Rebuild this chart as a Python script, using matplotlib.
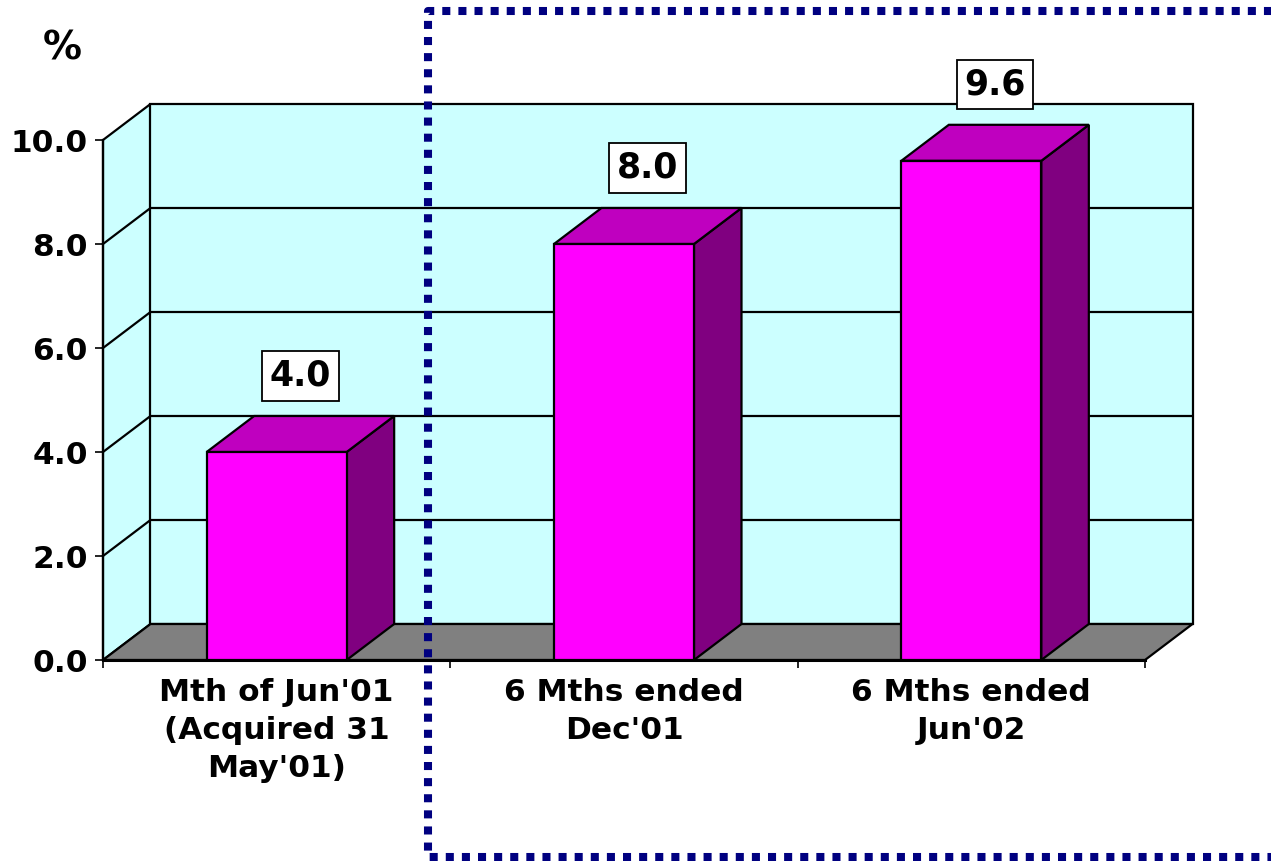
import matplotlib
matplotlib.use("Agg")
import matplotlib.pyplot as plt
from matplotlib.patches import Polygon
from matplotlib.lines import Line2D
from matplotlib.ticker import FormatStrFormatter, FixedLocator

plt.rcParams['font.family'] = ['DejaVu Sans']
plt.rcParams['font.weight'] = 'bold'

categories = ["Mth of Jun'01\n(Acquired 31\nMay'01)", "6 Mths ended\nDec'01", "6 Mths ended\nJun'02"]
values = [4.0, 8.0, 9.6]
yticks = [0, 2, 4, 6, 8, 10]

cyan = '#CCFFFF'
floor_col = '#808080'
front_col = '#FF00FF'
top_col = '#BF00BF'
side_col = '#800080'

W, H = 1271, 861
fig = plt.figure(figsize=(W / 100, H / 100), dpi=100)
fig.patch.set_facecolor('white')

# front plane of the 3d box
ax = fig.add_axes([103 / W, (H - 660) / H, 1042 / W, 520 / H])
ax.set_xlim(-0.5, 2.5)
ax.set_ylim(0, 10)
ax.set_facecolor('none')

# depth of the box in data units
dx = 47.5 / (1042 / 3)
dy = 36.0 / 52.0
bw = 140 / (1042 / 3)
x0, x1 = -0.5, 2.5
ytop = yticks[-1]

def poly(pts, fc, z, lw=1.6):
    ax.add_patch(Polygon(pts, closed=True, facecolor=fc, edgecolor='black',
                         linewidth=lw, clip_on=False, zorder=z, joinstyle='miter'))

# walls and floor
poly([(x0, 0), (x0 + dx, dy), (x0 + dx, ytop + dy), (x0, ytop)], cyan, 1)
poly([(x0 + dx, dy), (x1 + dx, dy), (x1 + dx, ytop + dy), (x0 + dx, ytop + dy)], cyan, 1)
poly([(x0, 0), (x1, 0), (x1 + dx, dy), (x0 + dx, dy)], floor_col, 2)

# gridlines on back and side wall
for v in yticks[1:-1]:
    ax.plot([x0, x0 + dx, x1 + dx], [v, v + dy, v + dy], color='black', lw=1.6,
            clip_on=False, zorder=1.5)

# bars
for i, v in enumerate(values):
    l, r = i - bw / 2, i + bw / 2
    poly([(l, 0), (r, 0), (r, v), (l, v)], front_col, 5)
    poly([(r, 0), (r + dx, dy), (r + dx, v + dy), (r, v)], side_col, 4)
    poly([(l, v), (r, v), (r + dx, v + dy), (l + dx, v + dy)], top_col, 4)
    ax.text(i + dx / 2, v + dy + 0.77, f"{v:.1f}", ha='center', va='center',
            fontsize=25, fontweight='bold', zorder=6,
            bbox=dict(boxstyle='square,pad=0.22', facecolor='white',
                      edgecolor='black', linewidth=1.3))

# axes styling
for s in ['top', 'right']:
    ax.spines[s].set_visible(False)
ax.spines['left'].set_linewidth(1.6)
ax.spines['bottom'].set_linewidth(2.2)
ax.spines['left'].set_zorder(3)
ax.spines['bottom'].set_zorder(3)

ax.set_yticks(yticks)
ax.yaxis.set_major_formatter(FormatStrFormatter('%.1f'))
ax.tick_params(axis='y', length=6, width=1.2, pad=5, labelsize=22.5)

ax.set_xticks(range(len(categories)))
ax.set_xticklabels(categories, fontsize=22.5, linespacing=1.4)
ax.xaxis.set_minor_locator(FixedLocator([-0.5, 0.5, 1.5, 2.5]))
ax.tick_params(axis='x', which='major', length=0, pad=13)
ax.tick_params(axis='x', which='minor', length=6, width=1.2)

fig.text(62 / W, 1 - 49 / H, '%', ha='center', va='center', fontsize=28, fontweight='bold')

# dotted frame around the six-month figures
fx = [1274 / W, 428 / W, 428 / W, 1274 / W, 1274 / W]
fy = [1 - 11 / H, 1 - 11 / H, 1 - 857 / H, 1 - 857 / H, 1 - 11 / H]
fig.add_artist(Line2D(fx, fy, transform=fig.transFigure, color='#000080', lw=5.8,
                      linestyle=(0, (1, 1.0)), dash_capstyle='butt', zorder=10))

fig.savefig('out.png', dpi=100)
